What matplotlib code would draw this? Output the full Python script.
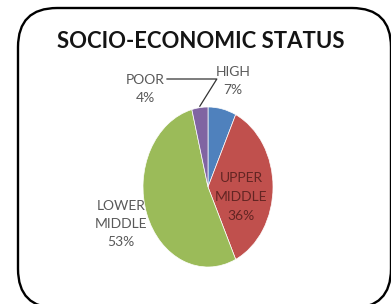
import matplotlib
matplotlib.use("Agg")
import matplotlib.pyplot as plt
from matplotlib.patches import FancyBboxPatch
import numpy as np

categories = ["HIGH", "UPPER\nMIDDLE", "LOWER\nMIDDLE", "POOR"]
values = [7, 36, 53, 4]
colors = ["#4F81BD", "#C0504D", "#9BBB59", "#8064A2"]
title = "SOCIO-ECONOMIC STATUS"

W, H = 391, 304
fig = plt.figure(figsize=(W / 100, H / 100), dpi=100)
fig.patch.set_facecolor("white")

def fx(x):
    return x / W

def fy(y):
    return 1 - y / H

# rounded outer frame
frame = FancyBboxPatch((fx(18), fy(308)), fx(391) - fx(18), fy(8) - fy(308),
                       boxstyle="round,pad=0,rounding_size=0.1",
                       transform=fig.transFigure, fill=False, lw=1.7,
                       edgecolor="black", mutation_aspect=W / H)
fig.patches.append(frame)

fig.text(fx(201), fy(41), title, ha="center", va="center",
         fontsize=15.9, fontweight="bold", family="Lato", color="#141414")

# pie axes (elliptical pie)
cx, cy, rx, ry = 208, 187, 65, 80
ax = fig.add_axes([fx(cx - rx), fy(cy + ry), 2 * rx / W, 2 * ry / H])
wedges, _ = ax.pie(values, colors=colors, startangle=90, counterclock=False,
                   radius=1, wedgeprops=dict(edgecolor="white", linewidth=0.5))
ax.set_aspect("auto")
ax.set_xlim(-1, 1)
ax.set_ylim(-1, 1)
ax.axis("off")

labels = [f"{c}\n{v}%" for c, v in zip(categories, values)]
pos = [(233, 81), (241, 197), (121, 224), (145, 89)]
lab_colors = ["#595959", "#632523", "#595959", "#595959"]
for (x, y), t, c in zip(pos, labels, lab_colors):
    fig.text(fx(x), fy(y), t, ha="center", va="center", fontsize=10,
             family="Lato", color=c, linespacing=1.65)

# leader line for POOR
th = np.deg2rad((wedges[3].theta1 + wedges[3].theta2) / 2 + 1.5)
ax.annotate("", xy=(np.cos(th) * 0.99, np.sin(th) * 0.99), xycoords="data",
            xytext=(fx(164), fy(79)), textcoords="figure fraction",
            arrowprops=dict(arrowstyle="-", color="#333333", lw=0.9,
                            connectionstyle="angle,angleA=0,angleB=58,rad=0"),
            annotation_clip=False)

fig.savefig("out.png", dpi=100, facecolor="white")
